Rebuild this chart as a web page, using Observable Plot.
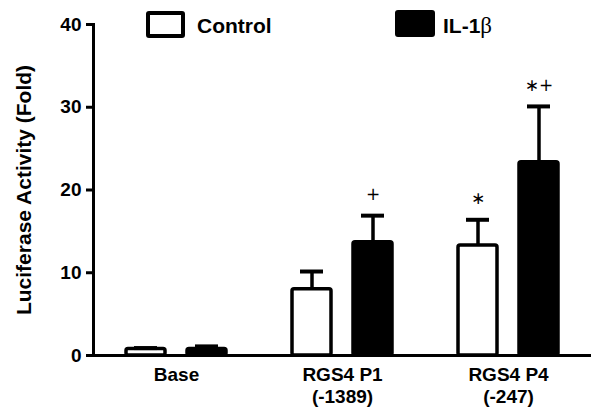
<!DOCTYPE html>
<html><head><meta charset="utf-8">
<script src="https://cdn.jsdelivr.net/npm/d3@7"></script>
<script src="https://cdn.jsdelivr.net/npm/@observablehq/plot@0.6"></script>
<style>
body{margin:0;background:#fff;}
#wrap{position:relative;width:602px;height:415px;font-family:"Liberation Sans",Arial,sans-serif;}
.lg{position:absolute;font-weight:bold;font-size:21px;line-height:21px;color:#000;white-space:nowrap;}
.box{position:absolute;box-sizing:border-box;border:4px solid #000;border-radius:3px;}
.beta{font-family:"Liberation Serif","Times New Roman",serif;font-weight:normal;font-size:23px;}
</style></head><body><div id="wrap"></div>
<script>
const groups = ["Base", "RGS4 P1", "RGS4 P4"];
const groupSubLabels = ["", "(-1389)", "(-247)"];
const series = ["Control", "IL-1β"];
const controlValues = [0.8, 8.0, 13.3];
const controlErrors = [0.1, 2.15, 3.1];
const il1bValues = [0.8, 13.7, 23.35];
const il1bErrors = [0.3, 3.2, 6.75];
const controlSignificance = ["", "", "∗"];
const il1bSignificance = ["", "+", "∗+"];
const yTicks = [0, 10, 20, 30, 40];
const yLabel = "Luciferase Activity (Fold)";

const rows = [];
groups.forEach((g, i) => {
  rows.push({group: g, series: series[0], value: controlValues[i], err: controlErrors[i], sig: controlSignificance[i]});
  rows.push({group: g, series: series[1], value: il1bValues[i], err: il1bErrors[i], sig: il1bSignificance[i]});
});
rows.forEach(d => d.top = d.value + d.err);

const font = '"Liberation Sans", Arial, sans-serif';

const chart = Plot.plot({
  width: 602,
  height: 415,
  marginLeft: 92,
  marginRight: 10,
  marginTop: 24,
  marginBottom: 60,
  style: {fontFamily: font, background: "white", color: "black"},
  fx: {domain: groups, padding: 0, axis: null},
  x: {domain: series, paddingInner: 0.355, paddingOuter: 0.522, axis: null},
  y: {domain: [0, 40], axis: null},
  color: {domain: series, range: ["white", "black"]},
  marks: [
    Plot.barY(rows, {fx: "group", x: "series", y: "value", fill: "series", stroke: "black", strokeWidth: 3.5, rx: 2}),
    Plot.ruleX(rows, {fx: "group", x: "series", y1: "value", y2: "top", stroke: "black", strokeWidth: 3.5}),
    Plot.tickY(rows, {fx: "group", x: "series", y: "top", stroke: "black", strokeWidth: 4, insetLeft: 8, insetRight: 8}),
    Plot.text(rows, {fx: "group", x: "series", y: "top", text: "sig", dy: -21, fontSize: 17, fontFamily: '"DejaVu Sans", sans-serif', fill: "black"}),
    Plot.ruleY([0], {stroke: "black", strokeWidth: 3}),
    Plot.frame({anchor: "left", facetAnchor: "left", stroke: "black", strokeWidth: 3}),
    Plot.axisY({ticks: yTicks, tickSize: 7, tickPadding: 5, strokeWidth: 3, fontSize: 19, fontWeight: "bold", label: null}),
    Plot.axisFx({anchor: "bottom", tickSize: 0, tickPadding: 9, fontSize: 19, fontWeight: "bold", lineHeight: 1.2, label: null,
      tickFormat: d => { const i = groups.indexOf(d); return groupSubLabels[i] ? d + "\n" + groupSubLabels[i] : d; }}),
    Plot.text([yLabel], {text: d => d, frameAnchor: "left", facetAnchor: "left", textAnchor: "middle", rotate: -90, dx: -69, fontSize: 21, fontWeight: "bold", fill: "black"})
  ]
});

const wrap = document.getElementById("wrap");
wrap.appendChild(chart);

// Legend (HTML overlay)
function legendItem(boxLeft, boxTop, boxW, boxH, fill, textLeft, html) {
  const b = document.createElement("div");
  b.className = "box";
  Object.assign(b.style, {left: boxLeft + "px", top: boxTop + "px", width: boxW + "px", height: boxH + "px", background: fill});
  wrap.appendChild(b);
  const t = document.createElement("div");
  t.className = "lg";
  Object.assign(t.style, {left: textLeft + "px", top: "15px"});
  t.innerHTML = html;
  wrap.appendChild(t);
}
legendItem(146, 11, 39, 27, "white", 197, series[0]);
legendItem(395, 10, 40, 27, "black", 443, series[1].replace("β", '<span class="beta">β</span>'));
</script>
</body></html>
